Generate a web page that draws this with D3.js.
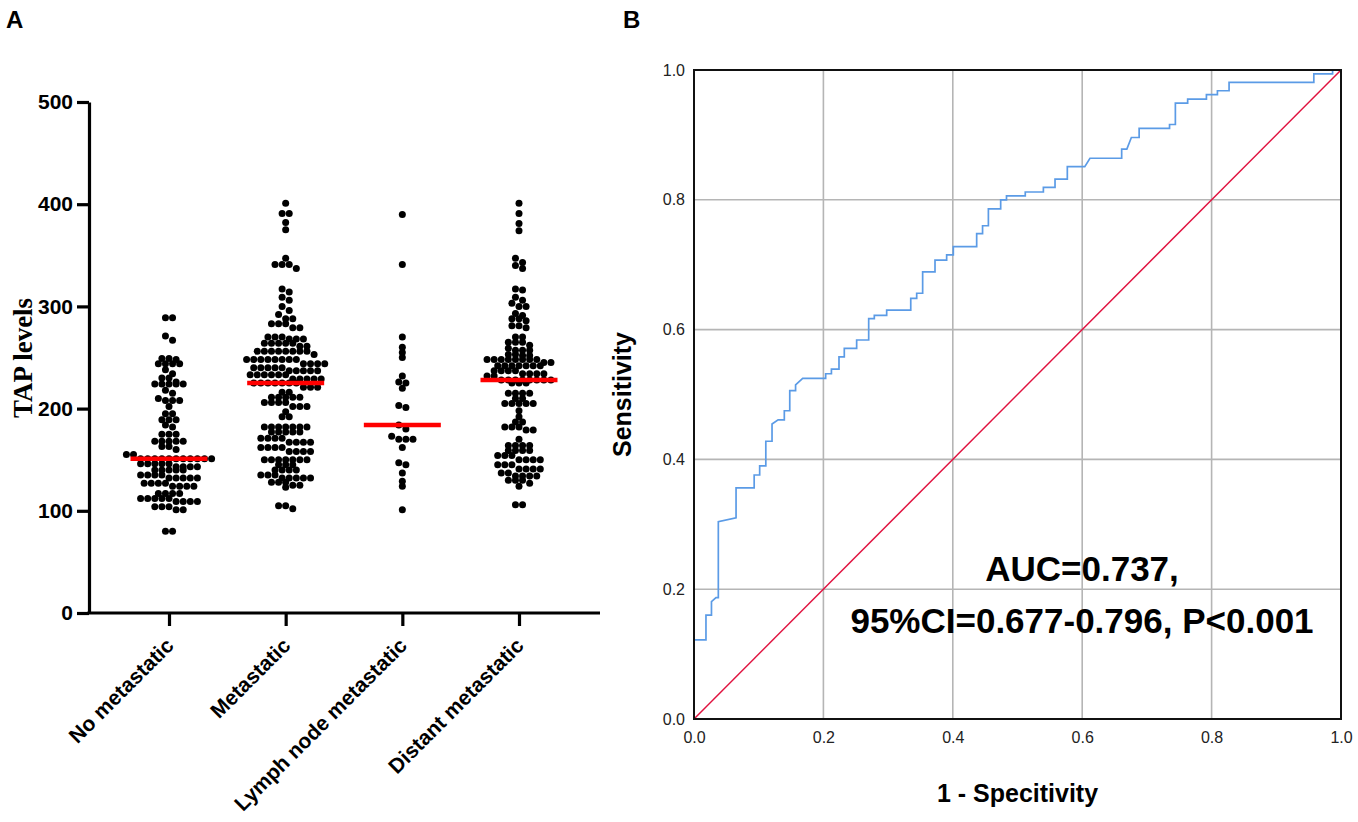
<!DOCTYPE html>
<html><head><meta charset="utf-8">
<script src="https://cdn.jsdelivr.net/npm/d3@7"></script>
<style>body{margin:0;background:#fff}svg{display:block}</style>
</head><body>
<svg id="c" width="1358" height="822"></svg>
<script>
// ---------- Panel A data ----------
const categories = ["No metastatic", "Metastatic", "Lymph node metastatic", "Distant metastatic"];
const yTicksA = [0, 100, 200, 300, 400, 500];

const noMetastatic = [289,289,271,267,249,249,248,244,244,244,244,238,234,230,230,226,224,224,224,224,224,218,215,210,208,208,208,202,195,195,189,189,189,184,182,175,175,175,168,168,168,168,168,163,163,160,155,155,
151,151,151,151,151,151,151,151,151,151,151,146,146,146,146,146,143,143,143,143,140,140,140,140,140,135,135,135,135,132,132,132,132,132,127,127,127,127,124,124,124,124,117,117,117,117,112,112,112,112,112,109,109,109,109,104,104,104,101,101,80,80];

const metastatic = [401,391,391,382,375,347,341,341,341,337,317,314,309,306,300,296,292,288,288,283,283,283,279,279,270,270,270,268,268,268,264,264,264,264,264,261,261,
256,256,256,256,256,256,256,256,253,248,248,248,248,248,248,248,248,244,244,244,244,240,240,240,240,240,237,237,237,237,237,233,233,233,233,233,233,229,229,229,229,229,
225,225,225,225,225,225,225,221,221,221,216,216,211,211,211,211,211,206,206,206,206,202,202,202,197,192,192,182,182,182,182,182,182,182,177,177,177,177,177,171,171,171,171,
167,167,167,167,162,162,162,162,158,158,158,158,150,150,150,150,150,150,150,145,145,145,140,140,140,140,135,135,135,132,132,132,132,132,128,128,128,125,125,123,105,105,102];

const lymphNode = [390,341,270,260,255,250,232,226,225,220,203,201,184,180,173,170,170,170,162,147,145,137,129,124,101];

const distant = [401,391,381,374,347,343,340,337,317,316,309,306,303,300,300,293,291,288,288,286,281,281,279,270,270,265,265,265,262,259,257,257,257,253,253,252,252,
248,248,248,248,248,248,248,248,245,245,242,242,242,242,242,242,242,237,237,237,237,234,234,234,234,232,232,228,228,228,228,228,228,228,228,225,225,225,
215,215,215,215,210,210,205,205,205,205,205,198,192,187,187,182,182,182,179,179,170,164,164,164,164,159,159,159,159,154,154,154,150,150,150,150,145,145,145,
141,141,141,141,137,137,134,134,134,134,130,130,130,127,124,106,106];

const groups = [noMetastatic, metastatic, lymphNode, distant];

// ---------- Panel B data ----------
const rocTicks = [0, 0.2, 0.4, 0.6, 0.8, 1.0];
const rocFpr = [0,0,0.0185,0.0185,0.027,0.027,0.034,0.0376,0.0376,0.065,0.065,0.093,0.093,0.1015,0.1015,0.111,0.111,0.1206,0.1206,0.130,0.1396,0.1396,0.148,0.148,0.157,0.157,0.168,0.2035,0.2035,0.2124,0.2124,0.2241,0.2241,0.2323,0.2323,0.2514,0.2514,0.270,0.270,0.2787,0.2787,0.2978,0.2978,0.335,0.335,0.3442,0.3442,0.3534,0.3534,0.3725,0.3725,0.3905,0.3905,0.4008,0.4008,0.4369,0.4369,0.446,0.446,0.455,0.455,0.474,0.474,0.483,0.483,0.512,0.512,0.540,0.540,0.558,0.558,0.577,0.577,0.604,0.612,0.661,0.661,0.669,0.676,0.688,0.688,0.735,0.735,0.744,0.744,0.763,0.763,0.792,0.792,0.809,0.809,0.827,0.827,0.958,0.958,0.987,0.987,1];
const rocTpr = [0,0.122,0.122,0.160,0.160,0.181,0.187,0.187,0.304,0.310,0.356,0.356,0.376,0.376,0.390,0.390,0.428,0.428,0.4545,0.461,0.461,0.475,0.475,0.506,0.506,0.515,0.525,0.525,0.532,0.532,0.539,0.539,0.558,0.558,0.571,0.571,0.584,0.584,0.617,0.617,0.622,0.622,0.630,0.630,0.648,0.648,0.656,0.656,0.689,0.689,0.707,0.707,0.715,0.715,0.728,0.728,0.748,0.748,0.760,0.760,0.786,0.786,0.800,0.800,0.806,0.806,0.812,0.812,0.819,0.819,0.832,0.832,0.851,0.851,0.864,0.864,0.878,0.878,0.896,0.896,0.910,0.910,0.916,0.916,0.949,0.949,0.955,0.955,0.962,0.962,0.968,0.968,0.981,0.981,0.994,0.994,1.0,1.0];
const refFpr = [0, 1];
const refTpr = [0, 1];
const aucLines = ["AUC=0.737,", "95%CI=0.677-0.796, P<0.001"];

// ---------- drawing ----------
const svg = d3.select("#c");
const sans = "'Liberation Sans', Arial, Helvetica, sans-serif";

svg.append("text").attr("x", 6).attr("y", 28).text("A")
  .attr("font-family", sans).attr("font-weight", "bold").attr("font-size", 24);
svg.append("text").attr("x", 623).attr("y", 28).text("B")
  .attr("font-family", sans).attr("font-weight", "bold").attr("font-size", 24);

// ----- Panel A -----
const yA = d3.scaleLinear().domain([0, 500]).range([613, 102]);
const xA = d3.scalePoint().domain(categories).range([169, 519]);
const axisX0 = 89;

const gA = svg.append("g");
const yAxisA = d3.axisLeft(yA).tickValues(yTicksA).tickSize(12).tickSizeOuter(0).tickPadding(4);
const gy = gA.append("g").attr("transform", `translate(${axisX0},0)`).call(yAxisA);
gy.selectAll("path,line").attr("stroke", "#000").attr("stroke-width", 3.2);
gy.selectAll("text").attr("font-family", sans).attr("font-weight", "bold").attr("font-size", 21).attr("fill", "#000");

const xAxisA = d3.axisBottom(xA).tickSize(13).tickSizeOuter(0).tickFormat("");
const gx = gA.append("g").attr("transform", `translate(0,${yA(0)})`).call(xAxisA);
gx.select(".domain").remove();
gx.selectAll("line").attr("stroke", "#000").attr("stroke-width", 3.2);
gA.append("line").attr("x1", axisX0 - 1.6).attr("x2", 600).attr("y1", yA(0)).attr("y2", yA(0))
  .attr("stroke", "#000").attr("stroke-width", 3.2);

categories.forEach(c => {
  gA.append("text").text(c)
    .attr("transform", `translate(${xA(c) + 6},${yA(0) + 34}) rotate(-45)`)
    .attr("text-anchor", "end")
    .attr("font-family", sans).attr("font-weight", "bold").attr("font-size", 21);
});

svg.append("text").text("TAP levels")
  .attr("transform", `translate(32,358) rotate(-90)`)
  .attr("text-anchor", "middle")
  .attr("font-family", "'Liberation Serif', 'Times New Roman', serif").attr("font-weight", "bold").attr("font-size", 27);

// Prism-style scatter: points with close values share a centred row
const r = 3.5, step = 7.1, tol = 4.2;
function scatterRows(vals) {
  const s = vals.slice().sort((a, b) => b - a);
  const rows = [];
  let cur = null;
  s.forEach(v => {
    if (!cur || cur.v0 - v > tol) { cur = { v0: v, items: [] }; rows.push(cur); }
    cur.items.push(v);
  });
  const pts = [];
  rows.forEach(row => {
    const n = row.items.length;
    row.items.forEach((v, i) => pts.push({ v, y: yA(v), x: (i - (n - 1) / 2) * step }));
  });
  return pts;
}

groups.forEach((vals, i) => {
  const cx = xA(categories[i]);
  const pts = scatterRows(vals);
  gA.append("g").selectAll("circle").data(pts).join("circle")
    .attr("cx", d => cx + d.x).attr("cy", d => d.y).attr("r", r).attr("fill", "#000");
  const med = d3.median(vals);
  gA.append("line").attr("x1", cx - 38.5).attr("x2", cx + 38.5)
    .attr("y1", yA(med)).attr("y2", yA(med))
    .attr("stroke", "#ff0000").attr("stroke-width", 4.5);
});

// ----- Panel B -----
const xB = d3.scaleLinear().domain([0, 1]).range([694, 1341]);
const yB = d3.scaleLinear().domain([0, 1]).range([719, 70]);
const gB = svg.append("g");

gB.append("g").selectAll("line").data(rocTicks.slice(1, -1)).join("line")
  .attr("x1", d => xB(d)).attr("x2", d => xB(d)).attr("y1", yB(0)).attr("y2", yB(1))
  .attr("stroke", "#b5b5b5").attr("stroke-width", 1.6);
gB.append("g").selectAll("line").data(rocTicks.slice(1, -1)).join("line")
  .attr("y1", d => yB(d)).attr("y2", d => yB(d)).attr("x1", xB(0)).attr("x2", xB(1))
  .attr("stroke", "#b5b5b5").attr("stroke-width", 1.6);

const line = d3.line().x(d => xB(d[0])).y(d => yB(d[1]));
gB.append("path").datum(refFpr.map((f, i) => [f, refTpr[i]])).attr("d", line)
  .attr("fill", "none").attr("stroke", "#e0123f").attr("stroke-width", 1.5);
gB.append("path").datum(rocFpr.map((f, i) => [f, rocTpr[i]])).attr("d", line)
  .attr("fill", "none").attr("stroke", "#5b9be6").attr("stroke-width", 1.7);

gB.append("rect").attr("x", xB(0)).attr("y", yB(1)).attr("width", xB(1) - xB(0)).attr("height", yB(0) - yB(1))
  .attr("fill", "none").attr("stroke", "#111").attr("stroke-width", 2);

const gyB = gB.append("g").attr("transform", `translate(${xB(0)},0)`)
  .call(d3.axisLeft(yB).tickValues(rocTicks).tickFormat(d3.format(".1f")).tickSize(0).tickPadding(9));
gyB.select(".domain").remove();
gyB.selectAll("text").attr("font-family", sans).attr("font-size", 16).attr("fill", "#222");
const gxB = gB.append("g").attr("transform", `translate(0,${yB(0)})`)
  .call(d3.axisBottom(xB).tickValues(rocTicks).tickFormat(d3.format(".1f")).tickSize(0).tickPadding(13));
gxB.select(".domain").remove();
gxB.selectAll("text").attr("font-family", sans).attr("font-size", 16).attr("fill", "#222");

svg.append("text").text("Sensitivity")
  .attr("transform", `translate(631,${(yB(0) + yB(1)) / 2}) rotate(-90)`)
  .attr("text-anchor", "middle").attr("font-family", sans).attr("font-weight", "bold").attr("font-size", 25);
svg.append("text").text("1 - Specitivity")
  .attr("x", (xB(0) + xB(1)) / 2).attr("y", 802)
  .attr("text-anchor", "middle").attr("font-family", sans).attr("font-weight", "bold").attr("font-size", 25);

svg.append("text").text(aucLines[0]).attr("x", 1082).attr("y", 581)
  .attr("text-anchor", "middle").attr("font-family", sans).attr("font-weight", "bold").attr("font-size", 35);
svg.append("text").text(aucLines[1]).attr("x", 1082).attr("y", 633)
  .attr("text-anchor", "middle").attr("font-family", sans).attr("font-weight", "bold").attr("font-size", 35);
</script>
</body></html>
